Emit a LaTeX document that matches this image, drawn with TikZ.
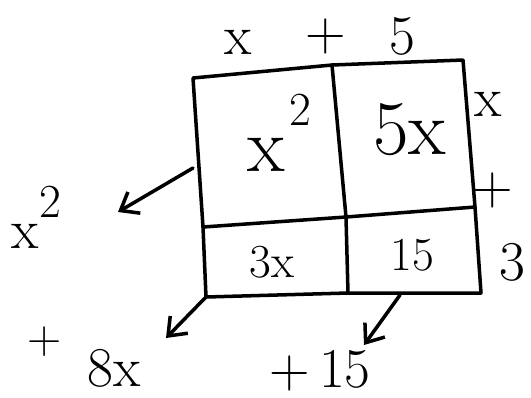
\documentclass[tikz,border=0pt]{standalone}
\usetikzlibrary{arrows.meta}
\begin{document}
\begin{tikzpicture}[x=0.02cm, y=-0.02cm, line width=2pt, line cap=round, line join=round,
    lbl/.style={inner sep=0pt, font=\fontsize{32}{36}\selectfont},
    big/.style={inner sep=0pt, font=\fontsize{44}{48}\selectfont},
    small/.style={inner sep=0pt, font=\fontsize{27}{30}\selectfont},
    arr/.style={-{Straight Barb[length=9pt, width=14pt]}, line width=2pt}]
  \useasboundingbox (0,0) rectangle (531,397);
  % grid corners
  \coordinate (a1) at (193,78);  \coordinate (a2) at (332,65);  \coordinate (a3) at (463,60);
  \coordinate (b1) at (203,227); \coordinate (b2) at (346,217); \coordinate (b3) at (475,207);
  \coordinate (c1) at (206,297); \coordinate (c2) at (348,293); \coordinate (c3) at (481,293);
  \draw (a1) -- (a2) -- (a3) -- (b3) -- (c3) -- (c2) -- (c1) -- (b1) -- cycle;
  \draw (a2) -- (b2) -- (c2);
  \draw (b1) -- (b2) -- (b3);

  % cells
  \node[big] (xx) at (266,155) {x};
  \node[small] (sq) at (300,110) {2};
  \node[big] (fx) at (410,130) {5x};
  \node[small] (tx) at (272,262) {3x};
  \node[small] (ft) at (412,255) {15};

  % sides
  \node[lbl] (tx1) at (238,42) {x};
  \node[lbl] (tp1) at (326,36) {+};
  \node[lbl] (t5) at (402,36) {5};
  \node[lbl] (rx1) at (488,104) {x};
  \node[lbl] (rp1) at (493,190) {+};
  \node[lbl] (r3) at (512,262) {3};

  % result
  \node[lbl] (rx) at (25,236) {x};
  \node[small] (r2) at (50,202) {2};
  \node[small] (rp2) at (45,342) {+};
  \node[lbl] (r8) at (114,368) {8x};
  \node[lbl] (r15) at (320,371) {+\,15};

  \coordinate (e1) at (118,212);
  \coordinate (s1) at (193,168);
  \coordinate (e2) at (166,338);
  \coordinate (s3) at (400,295);
  \coordinate (e3) at (364,345);
  \draw[arr] (s1) -- (e1);
  \draw[arr] (c1) -- (e2);
  \draw[arr] (s3) -- (e3);
\end{tikzpicture}
\end{document}
